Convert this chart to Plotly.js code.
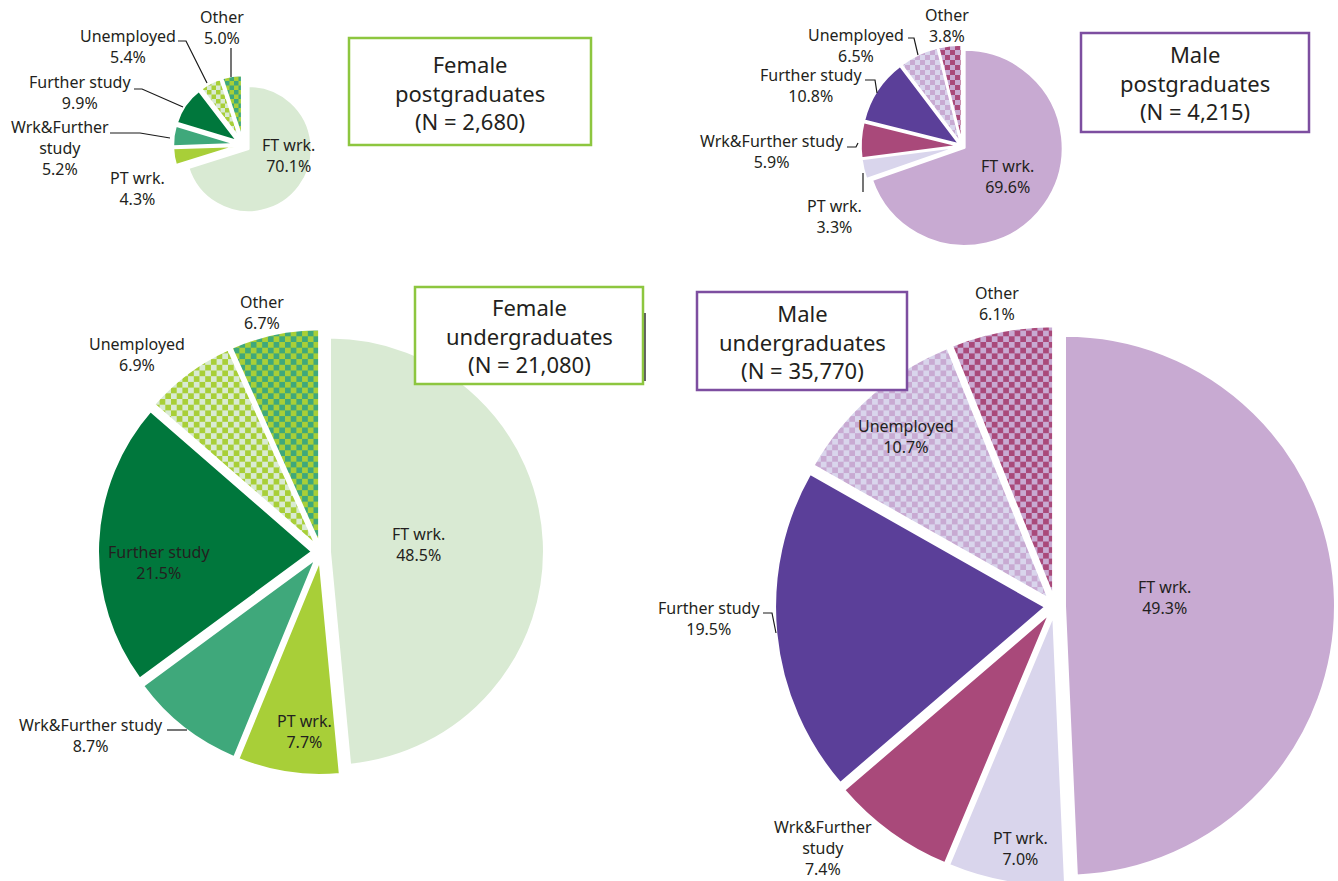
<!DOCTYPE html>
<html><head><meta charset="utf-8">
<script src="https://cdn.plot.ly/plotly-3.0.1.min.js"></script>
<style>
html,body{margin:0;padding:0;overflow:hidden;background:#fff;width:1338px;height:881px}
#chart{width:1338px;height:900px}
</style>
</head><body><div id="chart"></div>
<script>
// ---------- data ----------
const categories = ['FT wrk.', 'PT wrk.', 'Wrk&Further study', 'Further study', 'Unemployed', 'Other'];
const femalePG = [70.1, 4.3, 5.2, 9.9, 5.4, 5.0];
const malePG   = [69.6, 3.3, 5.9, 10.8, 6.5, 3.8];
const femaleUG = [48.5, 7.7, 8.7, 21.5, 6.9, 6.7];
const maleUG   = [49.3, 7.0, 7.4, 19.5, 10.7, 6.1];
const groupTitles = ['Female<br>postgraduates<br>(N = 2,680)', 'Male<br>postgraduates<br>(N = 4,215)',
                     'Female<br>undergraduates<br>(N = 21,080)', 'Male<br>undergraduates<br>(N = 35,770)'];

// ---------- styles ----------
const W = 1338, H = 900;
const FONT = 'Noto Sans, Open Sans, sans-serif';
const TXT = '#231f20';
const femaleColors = ['#d9ead3', '#a8cf38', '#3fa87b', '#00773c', '#d9ead3', '#a8cf38'];
const maleColors   = ['#c8aad2', '#d9d5ec', '#a9497a', '#5b3f99', '#d9d5ec', '#c8aad2'];
const femaleChecks = {4: ['#d9ead3', '#a8cf38'], 5: ['#a8cf38', '#3fa87b']};
const maleChecks   = {4: ['#d9d5ec', '#c8aad2'], 5: ['#c8aad2', '#a9497a']};
const femaleBorder = '#8dc63f', maleBorder = '#7d4ea0';

const pies = [
  {values: femalePG, colors: femaleColors, checks: femaleChecks, cx: 243, cy: 145, r: 63, pull: 0.11, cell: 4.5,
   box: [349, 38, 591, 145], boxColor: femaleBorder, title: groupTitles[0],
   labels: [
     {i: 0, x: 288, y: 155},
     {i: 1, x: 137, y: 188},
     {i: 2, x: 60, y: 148, name: 'Wrk&Further<br>study', lead: [[110,133],[140,133],[170,138]]},
     {i: 3, x: 80, y: 92, lead: [[134,89],[142,89],[183,107]]},
     {i: 4, x: 128, y: 47, lead: [[178,41],[186,41],[207,83]]},
     {i: 5, x: 222, y: 27, lead: [[231,48],[231,77]]}
   ]},
  {values: malePG, colors: maleColors, checks: maleChecks, cx: 962, cy: 146, r: 98, pull: 0.033, cell: 5,
   box: [1081, 33, 1309, 132], boxColor: maleBorder, title: groupTitles[1],
   labels: [
     {i: 0, x: 1007, y: 176},
     {i: 1, x: 835, y: 216, lead: [[863,173],[863,192]]},
     {i: 2, x: 772, y: 152, lead: [[847,147],[856,147],[858,143]]},
     {i: 3, x: 811, y: 85, lead: [[865,80],[875,80],[877,93]]},
     {i: 4, x: 856, y: 45, lead: [[908,38],[914,38],[918,55]]},
     {i: 5, x: 947, y: 26}
   ]},
  {values: femaleUG, colors: femaleColors, checks: femaleChecks, cx: 321, cy: 552, r: 214, pull: 0.042, cell: 5.7,
   box: [415, 287, 643, 384], boxColor: femaleBorder, title: groupTitles[2],
   labels: [
     {i: 0, x: 418, y: 544},
     {i: 1, x: 304, y: 731},
     {i: 2, x: 91, y: 735, lead: [[167,730],[187,730]]},
     {i: 3, x: 159, y: 562},
     {i: 4, x: 137, y: 354},
     {i: 5, x: 262, y: 312}
   ]},
  {values: maleUG, colors: maleColors, checks: maleChecks, cx: 1055, cy: 606, r: 270, pull: 0.037, cell: 5.7,
   box: [697, 292, 907, 390], boxColor: maleBorder, title: groupTitles[3],
   labels: [
     {i: 0, x: 1164, y: 597},
     {i: 1, x: 1020, y: 848},
     {i: 2, x: 823, y: 848, name: 'Wrk&Further<br>study'},
     {i: 3, x: 709, y: 618, lead: [[763,613],[772,613],[776,633]]},
     {i: 4, x: 906, y: 436},
     {i: 5, x: 997, y: 303}
   ]}
];

const px = x => x / W;
const py = y => 1 - y / H;

const data = pies.map(p => {
  const s = p.r * (1 + p.pull);
  return {
    type: 'pie',
    labels: categories,
    values: p.values,
    sort: false,
    direction: 'clockwise',
    rotation: 0,
    pull: p.values.map(() => p.pull),
    marker: {colors: p.colors, line: {color: '#ffffff', width: 2}},
    textinfo: 'none',
    hoverinfo: 'skip',
    showlegend: false,
    domain: {x: [px(p.cx - s), px(p.cx + s)], y: [py(p.cy + s), py(p.cy - s)]}
  };
});

const annotations = [];
const shapes = [];
pies.forEach(p => {
  p.labels.forEach(l => {
    const nm = l.name || categories[l.i];
    annotations.push({
      xref: 'paper', yref: 'paper', x: px(l.x), y: py(l.y), xanchor: 'center', yanchor: 'middle',
      text: nm + '<br>' + p.values[l.i].toFixed(1) + '%', showarrow: false,
      font: {family: FONT, size: 16, color: TXT}, align: 'center'
    });
    if (l.lead) {
      const path = l.lead.map((pt, k) => (k ? 'L' : 'M') + px(pt[0]) + ',' + py(pt[1])).join(' ');
      shapes.push({type: 'path', xref: 'paper', yref: 'paper', path: path,
                   line: {color: '#1a1a1a', width: 1.2}, layer: 'above'});
    }
  });
  const b = p.box;
  shapes.push({type: 'rect', xref: 'paper', yref: 'paper', x0: px(b[0]), x1: px(b[2]), y0: py(b[3]), y1: py(b[1]),
               line: {color: p.boxColor, width: 2.5}, fillcolor: '#ffffff', layer: 'above'});
  annotations.push({
    xref: 'paper', yref: 'paper', x: px((b[0] + b[2]) / 2), y: py((b[1] + b[3]) / 2 + 0.5),
    xanchor: 'center', yanchor: 'middle', text: p.title, showarrow: false, align: 'center',
    font: {family: FONT, size: 22, color: TXT}
  });
});
// small dark edge beside the female undergraduate box
shapes.push({type: 'line', xref: 'paper', yref: 'paper', x0: px(645), x1: px(645), y0: py(313), y1: py(381),
             line: {color: '#333333', width: 1.5}, layer: 'above'});

const layout = {
  width: W, height: H,
  margin: {l: 0, r: 0, t: 0, b: 0, pad: 0},
  paper_bgcolor: '#ffffff', plot_bgcolor: '#ffffff',
  showlegend: false,
  font: {family: FONT, color: TXT},
  annotations: annotations,
  shapes: shapes
};

const gd = document.getElementById('chart');

function applyCheckers() {
  const NS = 'http://www.w3.org/2000/svg';
  const svg = gd.querySelector('svg.main-svg');
  if (!svg) return;
  let defs = svg.querySelector('defs');
  if (!defs) { defs = document.createElementNS(NS, 'defs'); svg.insertBefore(defs, svg.firstChild); }
  const traces = gd.querySelectorAll('.pielayer .trace');
  traces.forEach((tr, ti) => {
    const cfg = pies[ti];
    if (!cfg) return;
    tr.querySelectorAll('g.slice').forEach((sl, k) => {
      const d = sl.__data__;
      const idx = (d && d.i !== undefined) ? d.i : k;
      const ch = cfg.checks[idx];
      if (!ch) return;
      const id = 'chk-' + ti + '-' + idx;
      if (!document.getElementById(id)) {
        const c = cfg.cell, sz = 2 * c;
        const pat = document.createElementNS(NS, 'pattern');
        pat.setAttribute('id', id);
        pat.setAttribute('width', sz);
        pat.setAttribute('height', sz);
        pat.setAttribute('patternUnits', 'userSpaceOnUse');
        const mk = (x, y, w, h, f) => {
          const r = document.createElementNS(NS, 'rect');
          r.setAttribute('x', x); r.setAttribute('y', y);
          r.setAttribute('width', w); r.setAttribute('height', h);
          r.setAttribute('fill', f);
          pat.appendChild(r);
        };
        mk(0, 0, sz, sz, ch[0]);
        mk(0, 0, c, c, ch[1]);
        mk(c, c, c, c, ch[1]);
        defs.appendChild(pat);
      }
      const path = sl.querySelector('path.surface');
      if (path) path.style.fill = 'url(#' + id + ')';
    });
  });
}

Plotly.newPlot(gd, data, layout, {staticPlot: true, displayModeBar: false}).then(() => {
  applyCheckers();
  gd.on && gd.on('plotly_afterplot', applyCheckers);
});
</script>
</body></html>
